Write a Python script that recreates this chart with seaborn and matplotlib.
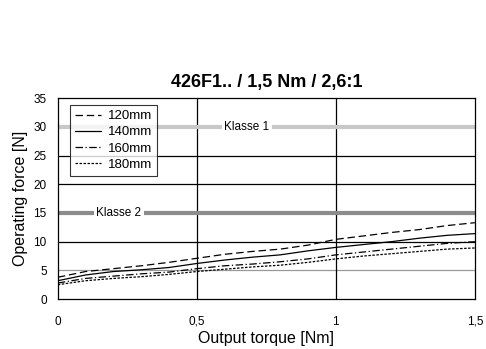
import pandas as pd
import numpy as np
import seaborn as sns
import matplotlib.pyplot as plt

torque = [0.0, 0.1, 0.2, 0.3, 0.4, 0.5, 0.6, 0.7, 0.8, 0.9, 1.0, 1.1, 1.2, 1.3, 1.4, 1.5]
f120 = [3.8, 4.8, 5.3, 5.8, 6.4, 7.1, 7.8, 8.3, 8.7, 9.4, 10.4, 11.0, 11.6, 12.1, 12.8, 13.3]
f140 = [3.2, 4.2, 4.8, 5.1, 5.5, 6.2, 6.8, 7.3, 7.7, 8.4, 9.0, 9.5, 10.0, 10.6, 11.1, 11.4]
f160 = [2.8, 3.6, 4.0, 4.4, 4.7, 5.3, 5.8, 6.1, 6.5, 7.0, 7.7, 8.2, 8.7, 9.2, 9.7, 10.0]
f180 = [2.5, 3.2, 3.6, 3.9, 4.3, 4.8, 5.2, 5.6, 5.9, 6.4, 7.0, 7.5, 7.9, 8.3, 8.7, 8.9]
lengths = ["120mm", "140mm", "160mm", "180mm"]

df = pd.DataFrame({
    "torque": torque * 4,
    "force": f120 + f140 + f160 + f180,
    "length": np.repeat(lengths, len(torque)),
})

sns.set_style("white")
plt.rcParams["font.family"] = ["Liberation Sans", "DejaVu Sans"]
plt.rcParams.update({"text.color": "black", "axes.labelcolor": "black",
                     "xtick.color": "black", "ytick.color": "black"})

fig = plt.figure(figsize=(4.86, 3.49), dpi=100)
ax = fig.add_axes([0.119, 0.143, 0.858, 0.576])

# grid
for y in [10, 20, 25]:
    ax.axhline(y, color="black", lw=0.9, zorder=1)
ax.axhline(5, color="#999999", lw=0.9, zorder=1)
for x in [0.5, 1.0]:
    ax.axvline(x, color="black", lw=0.9, zorder=1)

# class lines
ax.axhline(30, color="#c8c8c8", lw=3, zorder=1.5)
ax.axhline(15, color="#8c8c8c", lw=3, zorder=1.5)
ax.text(0.68, 30, "Klasse 1", fontsize=8.5, ha="center", va="center",
        bbox=dict(facecolor="white", edgecolor="none", pad=1.5), zorder=2)
ax.text(0.22, 15, "Klasse 2", fontsize=8.5, ha="center", va="center",
        bbox=dict(facecolor="white", edgecolor="none", pad=1.5), zorder=2)

dashes = {"120mm": (6, 3), "140mm": "", "160mm": (6, 2, 1, 2), "180mm": (2, 1.2)}
sns.lineplot(data=df, x="torque", y="force", style="length", dashes=dashes,
             color="black", lw=0.9, ax=ax, zorder=3)

ax.set_xlim(0, 1.5)
ax.set_ylim(0, 35)
ax.set_xticks([0, 0.5, 1.0, 1.5])
ax.set_xticklabels(["0", "0,5", "1", "1,5"])
ax.set_yticks(range(0, 36, 5))
ax.tick_params(axis="x", labelsize=8.5, pad=10, length=4, direction="inout", width=0.9)
ax.tick_params(axis="y", labelsize=8.5, pad=6, length=4, direction="inout", width=0.9)
ax.set_xlabel("Output torque [Nm]", fontsize=11.5, labelpad=2)
ax.set_ylabel("Operating force [N]", fontsize=11.5, labelpad=4)
ax.set_title("426F1.. / 1,5 Nm / 2,6:1", fontsize=13, fontweight="bold", pad=8)
for s in ax.spines.values():
    s.set_color("black")
    s.set_linewidth(0.9)

leg = ax.legend(loc="upper left", bbox_to_anchor=(0.028, 0.967), fontsize=9.5,
                frameon=True, fancybox=False, handlelength=2.0, labelspacing=0.3,
                borderpad=0.4, handletextpad=0.5, borderaxespad=0)
leg.get_frame().set_edgecolor("black")
leg.get_frame().set_linewidth(0.8)
leg.set_zorder(4)
for h in leg.get_lines():
    h.set_linewidth(0.9)
leg.set_title(None)

fig.savefig("out.png", dpi=100)
